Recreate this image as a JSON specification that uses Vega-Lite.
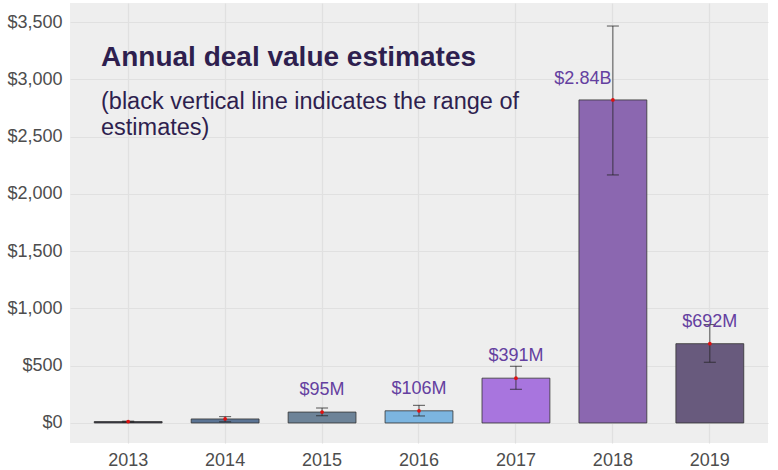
{
  "$schema": "https://vega.github.io/schema/vega-lite/v6.json",
  "width": 698,
  "height": 440,
  "autosize": {"type": "none"},
  "padding": {"left": 70, "top": 3, "right": 10, "bottom": 27},
  "background": "white",
  "config": {
    "font": "Liberation Sans",
    "view": {"fill": "#eeeeee", "stroke": null},
    "axis": {"gridColor": "#e0e0e0", "gridWidth": 1.2, "domain": false, "ticks": false, "labelColor": "#4d4d4d", "labelFontSize": 18, "labelFont": "Liberation Sans", "title": null}
  },
  "title": {
    "text": "Annual deal value estimates",
    "subtitle": ["(black vertical line indicates the range of", "estimates)"],
    "anchor": "start",
    "frame": "group",
    "orient": "top",
    "offset": -136,
    "dx": 31,
    "fontSize": 28,
    "fontWeight": "bold",
    "color": "#2e1f4f",
    "font": "Liberation Sans",
    "subtitleFont": "Liberation Sans",
    "subtitleFontSize": 23.5,
    "subtitleColor": "#2e1f4f",
    "subtitleLineHeight": 26,
    "subtitlePadding": 18
  },
  "data": {
    "values": [
      {"year": "2013", "value": 12, "low": 8, "high": 16, "label": "", "color": "#3a3a4a"},
      {"year": "2014", "value": 35, "low": 10, "high": 55, "label": "", "color": "#5b7494"},
      {"year": "2015", "value": 95, "low": 62, "high": 130, "label": "$95M", "color": "#6d8398"},
      {"year": "2016", "value": 106, "low": 61, "high": 154, "label": "$106M", "color": "#7cb5e0"},
      {"year": "2017", "value": 391, "low": 294, "high": 495, "label": "$391M", "color": "#a875de"},
      {"year": "2018", "value": 2820, "low": 2165, "high": 3465, "label": "$2.84B", "color": "#8b67b0"},
      {"year": "2019", "value": 692, "low": 530, "high": 859, "label": "$692M", "color": "#685a7d"}
    ]
  },
  "encoding": {
    "x": {
      "field": "year", "type": "ordinal",
      "scale": {"paddingInner": 0.3, "paddingOuter": 0.25},
      "axis": {"labelAngle": 0, "labelPadding": 8, "grid": true, "bandPosition": 0.5}
    }
  },
  "layer": [
    {
      "mark": {"type": "bar", "stroke": "#333333", "strokeWidth": 1, "strokeOpacity": 0.8},
      "encoding": {
        "y": {
          "field": "value", "type": "quantitative",
          "scale": {"domain": [-175, 3666], "nice": false, "zero": false},
          "axis": {"values": [0, 500, 1000, 1500, 2000, 2500, 3000, 3500], "format": "$,.0f", "labelPadding": 8, "grid": true}
        },
        "y2": {"datum": 0},
        "fill": {"field": "color", "type": "nominal", "scale": null}
      }
    },
    {
      "mark": {"type": "rule", "color": "#222222", "strokeWidth": 1, "opacity": 0.75},
      "encoding": {
        "y": {"field": "low", "type": "quantitative"},
        "y2": {"field": "high"}
      }
    },
    {
      "mark": {"type": "tick", "color": "#222222", "thickness": 1, "size": 12, "opacity": 0.75},
      "encoding": {"y": {"field": "low", "type": "quantitative"}}
    },
    {
      "mark": {"type": "tick", "color": "#222222", "thickness": 1, "size": 12, "opacity": 0.75},
      "encoding": {"y": {"field": "high", "type": "quantitative"}}
    },
    {
      "mark": {"type": "point", "filled": true, "color": "#e01010", "size": 14, "opacity": 1},
      "encoding": {"y": {"field": "value", "type": "quantitative"}}
    },
    {
      "transform": [{"filter": "datum.label != '' && datum.year != '2018'"}],
      "mark": {"type": "text", "baseline": "middle", "dy": -22, "fontSize": 18, "color": "#6440a0", "font": "Liberation Sans"},
      "encoding": {"y": {"field": "value", "type": "quantitative"}, "text": {"field": "label"}}
    },
    {
      "transform": [{"filter": "datum.year == '2018'"}],
      "mark": {"type": "text", "baseline": "middle", "dy": -21, "dx": -30, "fontSize": 18, "color": "#6440a0", "font": "Liberation Sans"},
      "encoding": {"y": {"field": "value", "type": "quantitative"}, "text": {"field": "label"}}
    }
  ]
}
